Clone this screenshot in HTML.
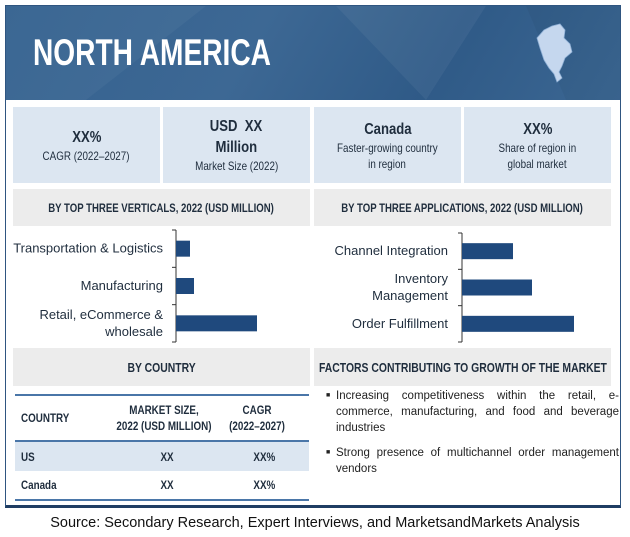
<!DOCTYPE html>
<html><head><meta charset="utf-8"><style>
body{margin:0;width:630px;height:537px;background:#fff;font-family:"Liberation Sans",sans-serif;position:relative;overflow:hidden}
.a{position:absolute}
.box{position:absolute;background:#dce6f1;text-align:center;color:#1f2d3d;display:flex;flex-direction:column;justify-content:center;align-items:center}
.box div{transform:scaleX(.82);white-space:nowrap}
.big{font-weight:bold;font-size:16px;line-height:21px}
.sm{font-size:12px;line-height:16px}
.hd{position:absolute;background:#ececec;color:#1f2d3d;font-weight:bold;font-size:12px;display:flex;align-items:center;justify-content:center;white-space:nowrap}
.hd span{transform:scaleX(.8);display:block}
.c{position:absolute;white-space:nowrap;text-align:center;transform:scaleX(.82)}
</style></head><body>
<div class="a" style="left:5px;top:5px;width:614px;height:499px;border:1px solid #2f5580;border-bottom:3px solid #1f3d63"></div>
<div class="a" style="left:6px;top:6px;width:614px;height:94px;background:linear-gradient(120deg,#34618f 0%,#3d6894 40%,#2f5a87 70%,#3c6793 100%)">
<svg width="614" height="94" style="position:absolute;left:0;top:0"><polygon points="0,0 200,0 80,94 0,94" fill="#ffffff" opacity=".04"/><polygon points="330,0 480,0 420,94" fill="#ffffff" opacity=".05"/><polygon points="520,0 614,0 614,94 560,94" fill="#000" opacity=".04"/></svg>
</div>
<div class="a" style="left:33px;top:32px;color:#fff;font-weight:bold;font-size:37px;line-height:42px;transform:scaleX(.76);transform-origin:left;white-space:nowrap">NORTH AMERICA</div>
<svg class="a" style="left:532px;top:22px" width="46" height="62"><path d="M12,8 L20,4 L28,2 L33,8 L32,16 L38,22 L40,30 L33,36 L30,44 L27,50 L30,56 L25,60 L22,52 L17,46 L12,38 L8,26 L5,16 Z" fill="#c5d7ee" stroke="#8fb0d6" stroke-width=".8"/></svg>

<div class="box" style="left:13px;top:107px;width:147px;height:76px"><div class="big">XX%</div><div class="sm">CAGR (2022–2027)</div></div>
<div class="box" style="left:163px;top:107px;width:147px;height:76px"><div class="big">USD&nbsp; XX</div><div class="big">Million</div><div class="sm">Market Size (2022)</div></div>
<div class="box" style="left:314px;top:107px;width:147px;height:76px"><div class="big">Canada</div><div class="sm">Faster-growing country</div><div class="sm">in region</div></div>
<div class="box" style="left:464px;top:107px;width:147px;height:76px"><div class="big">XX%</div><div class="sm">Share of region in</div><div class="sm">global market</div></div>

<div class="hd" style="left:13px;top:189px;width:297px;height:37px"><span>BY TOP THREE VERTICALS, 2022 (USD MILLION)</span></div>
<div class="hd" style="left:314px;top:189px;width:297px;height:37px"><span>BY TOP THREE APPLICATIONS, 2022 (USD MILLION)</span></div>

<svg id="charts" class="a" style="left:0;top:0" width="630" height="350"></svg>

<div class="hd" style="left:13px;top:348px;width:297px;height:38px;font-size:13px"><span>BY COUNTRY</span></div>
<div class="hd" style="left:314px;top:348px;width:297px;height:38px;font-size:13px"><span>FACTORS CONTRIBUTING TO GROWTH OF THE MARKET</span></div>

<div class="a" style="left:15px;top:394px;width:294px;height:103px;border-top:2px solid #4a76a8;border-bottom:2px solid #4a76a8;font-size:12px;color:#1f2d3d">
<div style="height:44px;border-bottom:2px solid #4a76a8;position:relative;font-weight:bold">
<span class="c" style="left:6px;top:15px;transform-origin:left">COUNTRY</span>
<span class="c" style="left:84px;top:6px;width:130px;line-height:16px">MARKET SIZE,<br>2022 (USD MILLION)</span>
<span class="c" style="left:205px;top:6px;width:74px;line-height:16px">CAGR<br>(2022–2027)</span></div>
<div style="height:29px;background:#dce6f1;position:relative;font-weight:bold"><span class="c" style="left:6px;top:8px;transform-origin:left">US</span><span class="c" style="left:144px;top:8px">XX</span><span class="c" style="left:236px;top:8px">XX%</span></div>
<div style="height:27px;position:relative;font-weight:bold"><span class="c" style="left:6px;top:7px;transform-origin:left">Canada</span><span class="c" style="left:144px;top:7px">XX</span><span class="c" style="left:236px;top:7px">XX%</span></div>
</div>

<div class="a" style="left:326px;top:388px;width:293px;font-size:11.5px;color:#222;line-height:16px">
<div style="display:flex"><span style="font-size:7px;width:10px">■</span><span style="text-align:justify;flex:1">Increasing competitiveness within the retail, e-commerce, manufacturing, and food and beverage industries</span></div>
<div style="display:flex;margin-top:9px"><span style="font-size:7px;width:10px">■</span><span style="text-align:justify;flex:1">Strong presence of multichannel order management vendors</span></div>
</div>

<div class="a" style="left:0;top:515px;width:630px;text-align:center;font-size:14.5px;color:#111;white-space:nowrap">Source: Secondary Research, Expert Interviews, and MarketsandMarkets Analysis</div>

<script>
const vertCats=["Transportation & Logistics","Manufacturing","Retail, eCommerce & wholesale"];
const vertVals=[14,18,81];
const appCats=["Channel Integration","Inventory Management","Order Fulfillment"];
const appVals=[51,70,112];
const NS="http://www.w3.org/2000/svg";
const svg=document.getElementById('charts');
function mk(t,a){const e=document.createElementNS(NS,t);for(const k in a)e.setAttribute(k,a[k]);svg.appendChild(e);return e;}
function chart(cats,vals,x0,top,bot,labelX,lines,name){
  const band=(bot-top)/cats.length;
  const xs=v=>x0+v*1;
  const ax=mk('line',{x1:x0,y1:top,x2:x0,y2:bot,stroke:'#333','stroke-width':1});
  
  
  for(let i=0;i<=cats.length;i++){const y=top+i*band;const t=mk('line',{x1:x0-4,y1:y,x2:x0,y2:y,stroke:'#333'});
    
    }
  cats.forEach((c,i)=>{
    const cy=top+(i+0.5)*band;
    const r=mk('rect',{x:x0,y:cy-8,width:xs(vals[i])-x0,height:16,fill:'#1f497d'});
    
    
    const ls=lines[i];
    ls.forEach((l,j)=>{const t=mk('text',{x:labelX,y:cy+4+(j-(ls.length-1)/2)*17,'text-anchor':'end','font-size':13,fill:'#1f2d3d','font-family':'Liberation Sans, sans-serif'});t.textContent=l;
      
      });
  });
}
chart(vertCats,vertVals,176,230,342,163,[["Transportation & Logistics"],["Manufacturing"],["Retail, eCommerce &","wholesale"]],'verticals');
chart(appCats,appVals,462,233,342,448,[["Channel Integration"],["Inventory","Management"],["Order Fulfillment"]],'applications');
</script>
</body></html>
